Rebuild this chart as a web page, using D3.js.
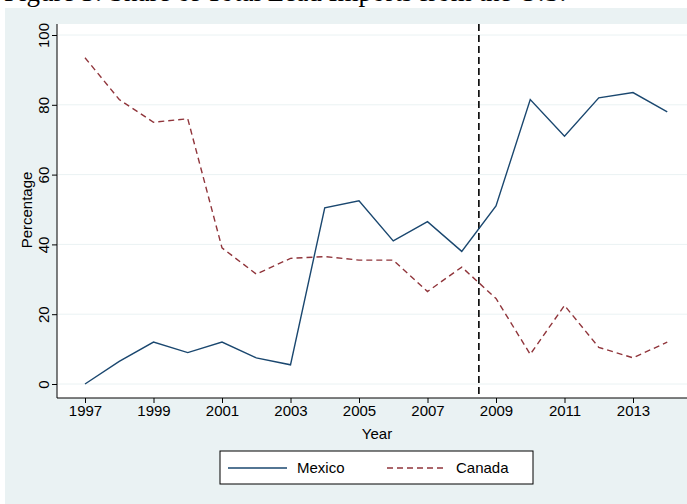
<!DOCTYPE html>
<html><head><meta charset="utf-8">
<script src="https://cdn.jsdelivr.net/npm/d3@7"></script>
<style>body{margin:0;background:#fff}svg{display:block}</style>
</head><body><svg id="c" width="687" height="504"></svg>
<script>
const years = d3.range(1997, 2015);
const mexico = [0, 6.5, 12, 9, 12, 7.5, 5.5, 50.5, 52.5, 41, 46.5, 38, 51, 81.5, 71, 82, 83.5, 78];
const canada = [93.5, 81.5, 75, 76, 39, 31.5, 36, 36.5, 35.5, 35.5, 26.5, 33.5, 24.5, 8.5, 22.5, 10.5, 7.5, 12];
const xTicks = [1997, 1999, 2001, 2003, 2005, 2007, 2009, 2011, 2013];
const yTicks = [0, 20, 40, 60, 80, 100];
const cutYear = 2008.5;

const svg = d3.select('#c');
svg.append('text').attr('x', 4).attr('y', 1).attr('font-family', 'Liberation Serif')
  .attr('font-size', 27).text('Figure 3: Share of Total Lead Imports from the U.S.');
svg.append('rect').attr('x', 5).attr('y', 8).attr('width', 682).attr('height', 496).attr('fill', '#eaf2f3');
svg.append('rect').attr('x', 57).attr('y', 24).attr('width', 630).attr('height', 374).attr('fill', '#fff');

const x = d3.scaleLinear().domain([1997, 2013]).range([85, 633]);
const y = d3.scaleLinear().domain([0, 100]).range([384, 35]);

const font = 'Liberation Sans';
svg.selectAll('.g').data(yTicks).enter().append('line')
  .attr('x1', 58).attr('x2', 687).attr('y1', d => y(d)).attr('y2', d => y(d))
  .attr('stroke', '#eaf2f3').attr('stroke-width', 1);

const ya = svg.append('g').attr('transform', 'translate(57,0)')
  .call(d3.axisLeft(y).tickValues(yTicks).tickSize(5).tickPadding(3));
ya.select('.domain').attr('d', 'M0,24V398');
ya.selectAll('text').attr('x', 0).attr('y', 0).attr('dy', 0)
  .attr('transform', 'translate(-8,0) rotate(-90)')
  .attr('text-anchor', 'middle').attr('font-family', font).attr('font-size', 15).attr('fill', '#000');
const xa = svg.append('g').attr('transform', 'translate(0,398)')
  .call(d3.axisBottom(x).tickValues(xTicks).tickFormat(d3.format('d')).tickSize(5).tickPadding(2));
xa.select('.domain').attr('d', 'M57,0H687');
xa.selectAll('text').attr('font-family', font).attr('font-size', 15).attr('fill', '#000');

svg.append('text').attr('x', 377).attr('y', 439).attr('text-anchor', 'middle')
  .attr('font-family', font).attr('font-size', 15).text('Year');
svg.append('text').attr('transform', 'translate(32,210) rotate(-90)').attr('text-anchor', 'middle')
  .attr('font-family', font).attr('font-size', 15).text('Percentage');

svg.append('line').attr('x1', x(cutYear)).attr('x2', x(cutYear)).attr('y1', 24).attr('y2', 398)
  .attr('stroke', '#000').attr('stroke-width', 1.6).attr('stroke-dasharray', '7,4');

const line = vals => d3.line().x((d, i) => x(years[i])).y(d => y(d))(vals);
svg.append('path').attr('d', line(mexico)).attr('fill', 'none').attr('stroke', '#1a476f').attr('stroke-width', 1.4);
svg.append('path').attr('d', line(canada)).attr('fill', 'none').attr('stroke', '#90353b').attr('stroke-width', 1.4)
  .attr('stroke-dasharray', '6,4');

const lg = svg.append('g');
lg.append('rect').attr('x', 220).attr('y', 451).attr('width', 313).attr('height', 33).attr('fill', '#fff').attr('stroke', '#000');
lg.append('line').attr('x1', 228).attr('x2', 287).attr('y1', 468).attr('y2', 468).attr('stroke', '#1a476f').attr('stroke-width', 1.4);
lg.append('text').attr('x', 297).attr('y', 473).attr('font-family', font).attr('font-size', 15).text('Mexico');
lg.append('line').attr('x1', 387).attr('x2', 446).attr('y1', 468).attr('y2', 468).attr('stroke', '#90353b').attr('stroke-width', 1.4).attr('stroke-dasharray', '6,4');
lg.append('text').attr('x', 456).attr('y', 473).attr('font-family', font).attr('font-size', 15).text('Canada');
</script></body></html>
